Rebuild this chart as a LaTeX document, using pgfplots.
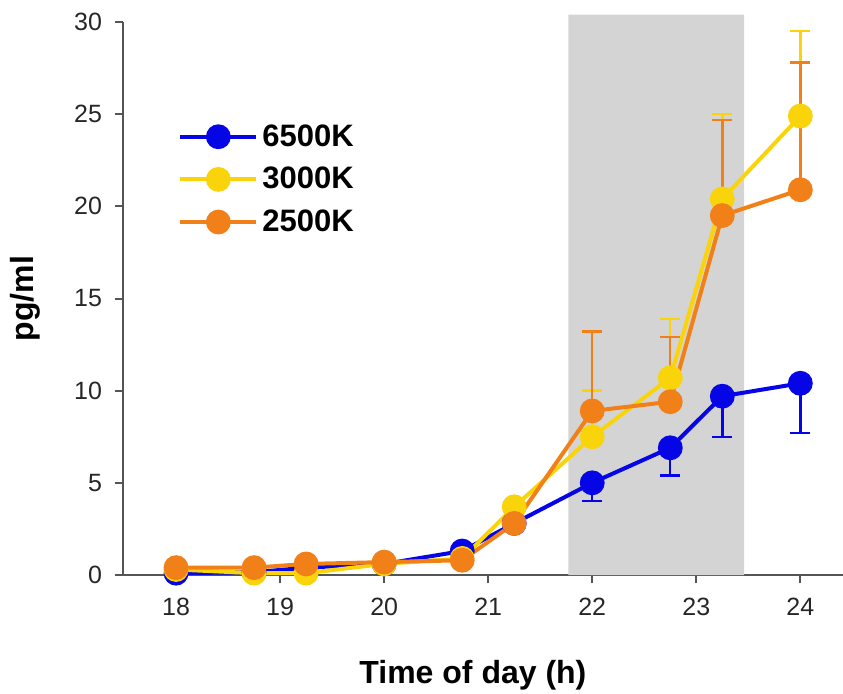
\documentclass[border=0pt]{standalone}
\usepackage{fontspec}
\setmainfont{Liberation Sans}
\usepackage{pgfplots}
\pgfplotsset{compat=1.18}

\definecolor{c65}{RGB}{5,5,230}
\definecolor{c30}{RGB}{250,212,10}
\definecolor{c25}{RGB}{242,128,24}
\definecolor{shade}{RGB}{212,212,212}
\definecolor{axgray}{RGB}{85,85,85}

\begin{document}
\begin{tikzpicture}
\useasboundingbox (-61.5pt,-59pt) rectangle (360pt,287.5pt);
\begin{axis}[
  at={(0,0)}, anchor=origin,
  scale only axis,
  width=360pt, height=276.5pt,
  xmin=17.49, xmax=24.41,
  ymin=0, ymax=30,
  clip=false,
  axis x line=bottom, axis y line=left,
  axis line style={-, axgray, line width=1pt},
  tick style={axgray, line width=1pt},
  tick align=outside, major tick length=4pt,
  xtick={18,19,20,21,22,23,24},
  ytick={0,5,10,15,20,25,30},
  /pgf/number format/assume math mode=true,
  tick label style={font=\fontsize{12.5}{14}\selectfont, text=black!85},
  xticklabel style={yshift=-4pt},
  yticklabel style={xshift=-3pt},
  xlabel={\textbf{Time of day (h)}},
  ylabel={\textbf{pg/ml}},
  label style={font=\fontsize{16}{18}\selectfont},
  xlabel style={at={(axis description cs:0.486,-0.181)}, anchor=center},
  ylabel style={at={(axis description cs:-0.136,0.5)}, anchor=center},
  legend style={at={(0.068,0.83)}, anchor=north west, draw=none, fill=none,
    font=\fontsize{15.5}{17}\selectfont\bfseries, row sep=5pt,
    /tikz/every even column/.append style={column sep=2pt}},
  legend cell align=left,
  legend image code/.code={
    \draw[#1, mark repeat=2, mark phase=2] plot coordinates {(0pt,0pt) (19pt,0pt) (38pt,0pt)};
  },
]
% light period shading
\addplot[fill=shade, draw=none, forget plot] coordinates
  {(21.77,0) (21.77,30.4) (23.46,30.4) (23.46,0)} \closedcycle;

\addplot[c65, line width=2pt, mark=*, mark size=5.2pt] coordinates
  {(18,0.1) (18.75,0.15) (19.25,0.4) (20,0.6) (20.75,1.3) (21.25,2.8) (22,5.0) (22.75,6.9) (23.25,9.7) (24,10.4)};
\addlegendentry{6500K}
\addplot[c65, only marks, mark=none, forget plot,
  error bars/.cd, y dir=minus, y explicit,
  error bar style={line width=1.2pt}, error mark options={rotate=90, mark size=5pt, line width=1.2pt}]
  coordinates {(22,5.0) -= (0,1.0) (22.75,6.9) -= (0,1.5) (23.25,9.7) -= (0,2.2) (24,10.4) -= (0,2.7)};

\addplot[c30, line width=2pt, mark=*, mark size=5.2pt] coordinates
  {(18,0.3) (18.75,0.1) (19.25,0.1) (20,0.6) (20.75,0.9) (21.25,3.7) (22,7.5) (22.75,10.7) (23.25,20.4) (24,24.9)};
\addlegendentry{3000K}
\addplot[c30, only marks, mark=none, forget plot,
  error bars/.cd, y dir=plus, y explicit,
  error bar style={line width=1.2pt}, error mark options={rotate=90, mark size=5pt, line width=1.2pt}]
  coordinates {(22,7.5) += (0,2.5) (22.75,10.7) += (0,3.2) (23.25,20.4) += (0,4.6) (24,24.9) += (0,4.6)};

\addplot[c25, line width=2pt, mark=*, mark size=5.2pt] coordinates
  {(18,0.4) (18.75,0.4) (19.25,0.6) (20,0.7) (20.75,0.8) (21.25,2.8) (22,8.9) (22.75,9.4) (23.25,19.5) (24,20.9)};
\addlegendentry{2500K}
\addplot[c25, only marks, mark=none, forget plot,
  error bars/.cd, y dir=plus, y explicit,
  error bar style={line width=1.2pt}, error mark options={rotate=90, mark size=5pt, line width=1.2pt}]
  coordinates {(22,8.9) += (0,4.3) (22.75,9.4) += (0,3.5) (23.25,19.5) += (0,5.2) (24,20.9) += (0,6.9)};
\end{axis}
\end{tikzpicture}
\end{document}
